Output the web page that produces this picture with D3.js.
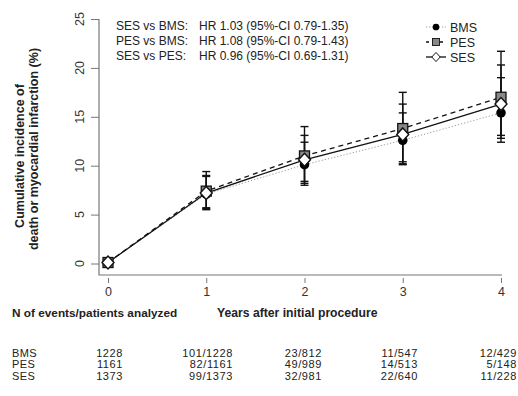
<!DOCTYPE html>
<html><head><meta charset="utf-8">
<script src="https://cdn.jsdelivr.net/npm/d3@7"></script>
<style>body{margin:0;background:#fff}svg{display:block;font-family:"Liberation Sans",Arial,sans-serif}</style>
</head><body><svg id="c" width="518" height="396"></svg>
<script>
const years = [0, 1, 2, 3, 4];
const yTicks = [0, 5, 10, 15, 20, 25];
const seriesNames = ["BMS", "PES", "SES"];
const bmsValues = [0.1, 7.1, 10.1, 12.6, 15.4];
const bmsLower  = [0.1, 5.6, 8.0, 10.1, 12.4];
const bmsUpper  = [0.1, 8.9, 12.4, 15.4, 19.0];
const pesValues = [0.1, 7.4, 11.0, 13.8, 17.0];
const pesLower  = [0.1, 5.7, 8.2, 10.2, 12.8];
const pesUpper  = [0.1, 9.4, 14.0, 17.5, 21.7];
const sesValues = [0.1, 7.2, 10.6, 13.2, 16.3];
const sesLower  = [0.1, 5.5, 8.4, 10.4, 13.1];
const sesUpper  = [0.1, 9.0, 13.1, 16.3, 20.3];
const hrLabels = ["SES vs BMS:", "PES vs BMS:", "SES vs PES:"];
const hrValues = ["HR 1.03 (95%-CI 0.79-1.35)", "HR 1.08 (95%-CI 0.79-1.43)", "HR 0.96 (95%-CI 0.69-1.31)"];
const tableBMS = ["1228", "101/1228", "23/812", "11/547", "12/429"];
const tablePES = ["1161", "82/1161", "49/989", "14/513", "5/148"];
const tableSES = ["1373", "99/1373", "32/981", "22/640", "11/228"];

const svg = d3.select("#c");
const x = d3.scaleLinear().domain([0, 4]).range([108, 501]);
const y = d3.scaleLinear().domain([0, 25]).range([263.5, 19]);
const axisCol = "#777";
const txt = "#222";

// L frame
svg.append("path").attr("d", `M99,${y(25)}V275H502`).attr("fill","none").attr("stroke",axisCol).attr("stroke-width",1.2);

// y axis ticks + rotated labels
const yAxis = svg.append("g").attr("transform","translate(99,0)")
  .call(d3.axisLeft(y).tickValues(yTicks).tickSize(8).tickFormat(""));
yAxis.select(".domain").remove();
yAxis.selectAll("line").attr("stroke",axisCol);
svg.append("g").selectAll("text").data(yTicks).join("text")
  .attr("transform", d => `translate(79,${y(d)}) rotate(-90)`)
  .attr("text-anchor","middle").attr("dy","0.36em").attr("font-size",12.5).attr("fill","#333")
  .text(d => d);

// x axis
const xAxis = svg.append("g").attr("transform","translate(0,278)")
  .call(d3.axisBottom(x).tickValues(years).tickSize(5).tickPadding(4).tickFormat(d3.format("d")));
xAxis.select(".domain").remove();
xAxis.selectAll("line").attr("stroke",axisCol);
xAxis.selectAll("text").attr("fill","#333").attr("font-size",12.5).attr("font-family","Liberation Sans, Arial");

// y title
svg.append("text").attr("transform","translate(19,156) rotate(-90)").attr("dy","0.36em")
  .attr("text-anchor","middle").attr("font-weight","bold").attr("font-size",12.5).attr("fill",txt).text("Cumulative incidence of");
svg.append("text").attr("transform","translate(33,149) rotate(-90)").attr("dy","0.36em")
  .attr("text-anchor","middle").attr("font-weight","bold").attr("font-size",12.5).attr("fill",txt).text("death or myocardial infarction (%)");

const series = [
  {name:"BMS", v:bmsValues, lo:bmsLower, hi:bmsUpper, stroke:"#999", dash:"1.2,2", width:1, shape:"circle"},
  {name:"PES", v:pesValues, lo:pesLower, hi:pesUpper, stroke:"#111", dash:"5,4", width:1.3, shape:"square"},
  {name:"SES", v:sesValues, lo:sesLower, hi:sesUpper, stroke:"#111", dash:null, width:1.3, shape:"diamond"}
];

// error bars
series.forEach(s => {
  const g = svg.append("g").attr("stroke","#111").attr("stroke-width",1.4);
  years.forEach((yr,i) => {
    if (i===0) return;
    g.append("line").attr("x1",x(yr)).attr("x2",x(yr)).attr("y1",y(s.lo[i])).attr("y2",y(s.hi[i]));
    [s.lo[i], s.hi[i]].forEach(v => g.append("line").attr("x1",x(yr)-4).attr("x2",x(yr)+4).attr("y1",y(v)).attr("y2",y(v)));
  });
});

// lines
const line = d3.line().x((d,i)=>x(years[i])).y(d=>y(d));
series.forEach(s => {
  svg.append("path").attr("d",line(s.v)).attr("fill","none").attr("stroke",s.stroke)
    .attr("stroke-width",s.width).attr("stroke-dasharray",s.dash);
});

function marker(g, shape, cx, cy, k) {
  if (shape==="circle") g.append("circle").attr("cx",cx).attr("cy",cy).attr("r",4.8*k).attr("fill","#000");
  else if (shape==="square") g.append("rect").attr("x",cx-5*k).attr("y",cy-5*k).attr("width",10*k).attr("height",10*k).attr("fill","#888").attr("stroke","#111").attr("stroke-width",1.3*k);
  else g.append("path").attr("d",`M${cx},${cy-6.5*k}L${cx+6*k},${cy}L${cx},${cy+6.5*k}L${cx-6*k},${cy}Z`).attr("fill","#fff").attr("stroke","#111").attr("stroke-width",1.4*k);
}
series.forEach(s => {
  const g = svg.append("g");
  s.v.forEach((v,i) => marker(g, s.shape, x(years[i]), y(v), 1));
});

// HR annotations
hrLabels.forEach((t,i) => {
  svg.append("text").attr("x",116).attr("y",30+15*i).attr("font-size",12).attr("fill",txt).text(t);
  svg.append("text").attr("x",199).attr("y",30+15*i).attr("font-size",12).attr("fill",txt).text(hrValues[i]);
});

// legend
series.forEach((s,i) => {
  const cy = 27 + 15*i;
  svg.append("line").attr("x1",426).attr("x2",446).attr("y1",cy).attr("y2",cy).attr("stroke",s.stroke).attr("stroke-width",s.width)
    .attr("stroke-dasharray", s.dash ? (s.name==="PES" ? "3,4" : s.dash) : null);
  const g = svg.append("g");
  marker(g, s.shape, 436, cy, 0.7);
  svg.append("text").attr("x",450).attr("y",cy+4.5).attr("font-size",12.5).attr("fill",txt).text(s.name);
});

// table
svg.append("text").attr("x",12).attr("y",317).attr("font-size",11.8).attr("font-weight","bold").attr("fill",txt).text("N of events/patients analyzed");
svg.append("text").attr("x",217).attr("y",317).attr("font-size",12.2).attr("font-weight","bold").attr("fill",txt).text("Years after initial procedure");
const colRight = [123, 233, 322, 418, 517];
const rows = [tableBMS, tablePES, tableSES];
rows.forEach((r,ri) => {
  const by = 356.5 + 11.5*ri;
  svg.append("text").attr("x",12).attr("y",by).attr("font-size",11).attr("letter-spacing",0.4).attr("fill",txt).text(seriesNames[ri]);
  r.forEach((t,ci) => svg.append("text").attr("x",colRight[ci]).attr("y",by).attr("text-anchor","end")
    .attr("font-size",11).attr("letter-spacing",0.6).attr("fill",txt).text(t));
});
</script></body></html>
